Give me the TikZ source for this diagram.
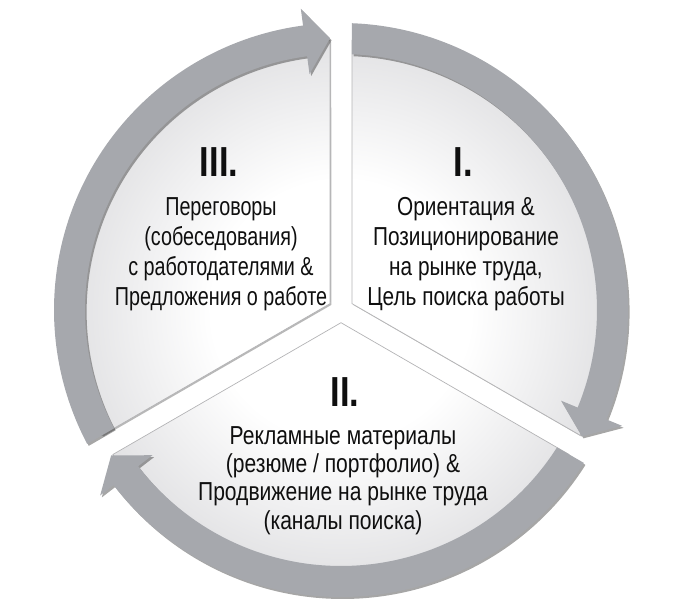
\documentclass[tikz,border=0pt]{standalone}
\usepackage{fontspec}
\setmainfont{Liberation Sans}[FakeStretch=0.80]
\newfontfamily\leftfont{Liberation Sans}[FakeStretch=0.76]
\newfontfamily\lowfont{Liberation Sans}[FakeStretch=0.81]
\newfontfamily\numfont{Liberation Sans}[FakeStretch=0.82]
\usetikzlibrary{shadows}
\definecolor{bandgray}{RGB}{166,168,173}
\definecolor{rimgray}{RGB}{226,226,228}
\definecolor{edgegray}{RGB}{180,180,182}
\definecolor{txt}{RGB}{15,15,15}
\pgfdeclareradialshading{secshade}{\pgfpoint{0bp}{0bp}}{color(0bp)=(white); color(12bp)=(white); color(25bp)=(rimgray); color(50bp)=(rimgray)}
\begin{document}
\begin{tikzpicture}[x=1pt,y=1pt,
  secedge/.style={draw=edgegray, line width=0.7pt},
  secshadow/.style={fill=black, opacity=0.28},
  band/.style={fill=bandgray},
  bandshadow/.style={fill=black, opacity=0.35},
  lbl/.style={anchor=base, inner sep=0pt, text=txt, font=\fontsize{26}{30}\selectfont},
  leftlbl/.style={anchor=base, inner sep=0pt, text=txt, font=\leftfont\fontsize{26}{30}\selectfont},
  lowlbl/.style={anchor=base, inner sep=0pt, text=txt, font=\lowfont\fontsize{26}{28}\selectfont},
  num/.style={anchor=base, inner sep=0pt, text=txt, font=\numfont\bfseries\fontsize{42}{42}\selectfont}]
\useasboundingbox (-341,-305) rectangle (342,310);
% sectors
\foreach \b in {30,270,150}{
  \fill[secshadow, shift={(1.3,-1.3)}] (\b:12.7) -- ({\b+57.65}:270) arc[start angle=\b+57.65, end angle=\b-57.65, radius=270] -- cycle;
  \begin{scope}
    \clip (\b:12.7) -- ({\b+57.65}:270) arc[start angle=\b+57.65, end angle=\b-57.65, radius=270] -- cycle;
    \shade[shading=secshade] (0,0) circle (270);
  \end{scope}
  \draw[secedge] (\b:12.7) -- ({\b+57.65}:270) arc[start angle=\b+57.65, end angle=\b-57.65, radius=270] -- cycle;
}
% circular arrows
\foreach \g in {210,90,-30}{
  \fill[bandshadow, shift={(1.6,-2)}] ({\g-asin(11/287)}:287) arc[start angle={\g-asin(11/287)}, end angle={\g-112.4}, radius=287] -- ({\g-112.4}:304) -- ({\g-117.68}:272) -- ({\g-112.4}:238) -- ({\g-112.4}:256) arc[start angle={\g-112.4}, end angle={\g-asin(11/256)}, radius=256] -- cycle;
  \fill[band] ({\g-asin(11/287)}:287) arc[start angle={\g-asin(11/287)}, end angle={\g-112.4}, radius=287] -- ({\g-112.4}:304) -- ({\g-117.68}:272) -- ({\g-112.4}:238) -- ({\g-112.4}:256) arc[start angle={\g-112.4}, end angle={\g-asin(11/256)}, radius=256] -- cycle;
}
% numerals
\node[num] (nI) at (122,133) {I.};
\node[num] (nII) at (4,-97) {II.};
\node[num] (nIII) at (-122,133) {III.};
% sector I text
\node[lbl] (tIa) at (125,94) {Ориентация \&};
\node[lbl] (tIb) at (125,64) {Позиционирование};
\node[lbl] (tIc) at (125,34) {на рынке труда,};
\node[lbl] (tId) at (125,4) {Цель поиска работы};
% sector III text
\node[leftlbl] (tIIIa) at (-120,94) {Переговоры};
\node[leftlbl] (tIIIb) at (-120,64) {(собеседования)};
\node[leftlbl] (tIIIc) at (-120,34) {с работодателями \&};
\node[leftlbl] (tIIId) at (-120,4) {Предложения о работе};
% sector II text
\node[lowlbl] (tIIa) at (2,-135) {Рекламные материалы};
\node[lowlbl] (tIIb) at (2,-163) {(резюме / портфолио) \&};
\node[lowlbl] (tIIc) at (2,-191) {Продвижение на рынке труда};
\node[lowlbl] (tIId) at (2,-219) {(каналы поиска)};
\end{tikzpicture}
\end{document}
